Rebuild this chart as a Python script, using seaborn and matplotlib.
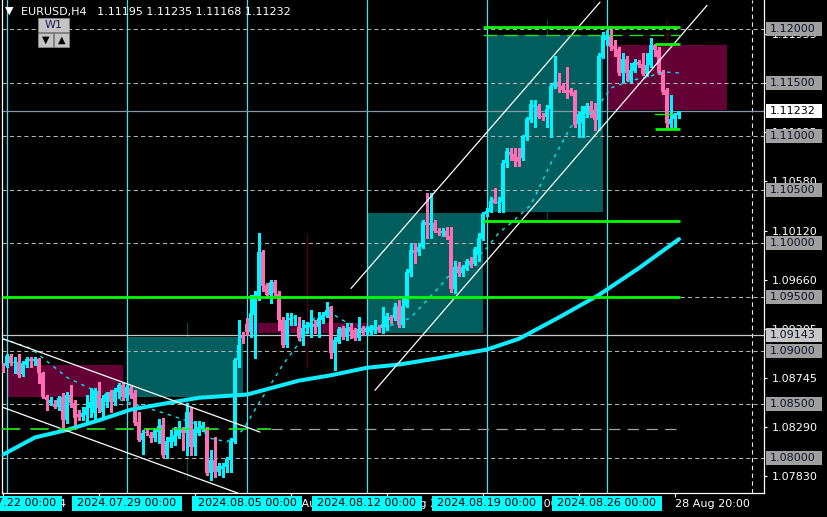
import numpy as np
import pandas as pd
import matplotlib
matplotlib.use("Agg")
import matplotlib.pyplot as plt
from matplotlib.patches import Rectangle
import seaborn as sns

# ---------------- data (EURUSD H4) ----------------
first_bar = -1  # bar index of the first candle (index 0 = 2024.07.22 00:00)

opens = [
    1.0887, 1.0886, 1.0895, 1.0888, 1.0889, 1.0878, 1.0887, 1.0892, 1.0890, 1.0892,
    1.0879, 1.0857, 1.0851, 1.0850, 1.0847, 1.0857, 1.0835, 1.0859, 1.0851, 1.0841,
    1.0838, 1.0840, 1.0846, 1.0842, 1.0861, 1.0843, 1.0852, 1.0861, 1.0852, 1.0861,
    1.0868, 1.0856, 1.0865, 1.0860, 1.0833, 1.0817, 1.0824, 1.0821, 1.0818, 1.0824,
    1.0831, 1.0803, 1.0815, 1.0815, 1.0820, 1.0827, 1.0823, 1.0843, 1.0810, 1.0823,
    1.0827, 1.0828, 1.0786, 1.0798, 1.0787, 1.0790, 1.0791, 1.0798, 1.0815, 1.0891,
    1.0914, 1.0925, 1.0917, 1.0933, 1.0950, 1.0992, 1.0961, 1.0952, 1.0964, 1.0953,
    1.0929, 1.0905, 1.0929, 1.0930, 1.0922, 1.0912, 1.0921, 1.0922, 1.0925, 1.0922,
    1.0929, 1.0932, 1.0941, 1.0898, 1.0908, 1.0921, 1.0913, 1.0922, 1.0919, 1.0912,
    1.0921, 1.0917, 1.0917, 1.0919, 1.0922, 1.0921, 1.0922, 1.0931, 1.0930, 1.0942,
    1.0924, 1.0942, 1.0972, 1.0994, 1.0992, 1.0997, 1.1020, 1.1017, 1.1019, 1.1012,
    1.1010, 1.1012, 1.1007, 1.0957, 1.0979, 1.0972, 1.0976, 1.0984, 1.0981, 1.0989,
    1.1004, 1.1027, 1.1029, 1.1041, 1.1038, 1.1039, 1.1075, 1.1085, 1.1083, 1.1081,
    1.1080, 1.1099, 1.1115, 1.1127, 1.1128, 1.1119, 1.1118, 1.1125, 1.1147, 1.1151,
    1.1147, 1.1143, 1.1143, 1.1141, 1.1111, 1.1112, 1.1121, 1.1128, 1.1124, 1.1115,
    1.1174, 1.1190, 1.1194, 1.1184, 1.1181, 1.1159, 1.1172, 1.1152, 1.1161, 1.1169,
    1.1167, 1.1158, 1.1166, 1.1185, 1.1180, 1.1159, 1.1143, 1.1111, 1.1116, 1.11195,
]
highs = [
    1.0888, 1.0897, 1.0897, 1.0894, 1.0897, 1.0890, 1.0894, 1.0894, 1.0894, 1.0893,
    1.0880, 1.0859, 1.0857, 1.0854, 1.0858, 1.0860, 1.0861, 1.0868, 1.0854, 1.0845,
    1.0847, 1.0859, 1.0865, 1.0865, 1.0871, 1.0859, 1.0861, 1.0863, 1.0865, 1.0870,
    1.0870, 1.0868, 1.0867, 1.0863, 1.0843, 1.0826, 1.0828, 1.0824, 1.0828, 1.0836,
    1.0837, 1.0819, 1.0826, 1.0829, 1.0834, 1.0829, 1.0851, 1.0847, 1.0834, 1.0834,
    1.0833, 1.0829, 1.0807, 1.0819, 1.0795, 1.0795, 1.0801, 1.0818, 1.0893, 1.0929,
    1.0917, 1.0930, 1.0952, 1.0956, 1.1010, 1.0994, 1.0963, 1.0966, 1.0966, 1.0956,
    1.0931, 1.0935, 1.0935, 1.0933, 1.0931, 1.0929, 1.0927, 1.0938, 1.0929, 1.0936,
    1.0936, 1.0945, 1.0942, 1.0913, 1.0922, 1.0923, 1.0926, 1.0926, 1.0921, 1.0931,
    1.0923, 1.0923, 1.0924, 1.0929, 1.0924, 1.0941, 1.0935, 1.0933, 1.0944, 1.0947,
    1.0949, 1.0976, 1.1000, 1.1000, 1.1000, 1.1022, 1.1047, 1.1047, 1.1022, 1.1014,
    1.1014, 1.1015, 1.1015, 1.0984, 1.0983, 1.0980, 1.0985, 1.0987, 1.0997, 1.1010,
    1.1029, 1.1033, 1.1043, 1.1052, 1.1043, 1.1078, 1.1089, 1.1089, 1.1089, 1.1089,
    1.1101, 1.1118, 1.1134, 1.1134, 1.1130, 1.1122, 1.1129, 1.1149, 1.1175, 1.1159,
    1.1150, 1.1165, 1.1145, 1.1143, 1.1123, 1.1128, 1.1131, 1.1133, 1.1131, 1.1178,
    1.1197, 1.1199, 1.1201, 1.1190, 1.1183, 1.1178, 1.1175, 1.1168, 1.1172, 1.1171,
    1.1178, 1.1178, 1.1192, 1.1186, 1.1183, 1.1162, 1.1145, 1.1138, 1.1122, 1.11235,
]
lows = [
    1.0880, 1.0885, 1.0887, 1.0879, 1.0875, 1.0876, 1.0885, 1.0885, 1.0887, 1.0870,
    1.0856, 1.0845, 1.0849, 1.0846, 1.0845, 1.0826, 1.0832, 1.0847, 1.0831, 1.0835,
    1.0835, 1.0832, 1.0838, 1.0833, 1.0843, 1.0838, 1.0847, 1.0843, 1.0849, 1.0856,
    1.0854, 1.0854, 1.0856, 1.0831, 1.0816, 1.0804, 1.0821, 1.0815, 1.0816, 1.0814,
    1.0801, 1.0800, 1.0810, 1.0812, 1.0818, 1.0807, 1.0803, 1.0803, 1.0803, 1.0821,
    1.0825, 1.0784, 1.0779, 1.0782, 1.0784, 1.0782, 1.0787, 1.0787, 1.0814, 1.0885,
    1.0907, 1.0915, 1.0913, 1.0893, 1.0947, 1.0956, 1.0949, 1.0944, 1.0952, 1.0919,
    1.0903, 1.0903, 1.0924, 1.0924, 1.0910, 1.0905, 1.0916, 1.0913, 1.0916, 1.0913,
    1.0926, 1.0931, 1.0893, 1.0882, 1.0907, 1.0911, 1.0910, 1.0912, 1.0910, 1.0910,
    1.0915, 1.0915, 1.0915, 1.0916, 1.0917, 1.0916, 1.0919, 1.0926, 1.0929, 1.0922,
    1.0922, 1.0941, 1.0970, 1.0982, 1.0989, 1.0996, 1.1005, 1.1005, 1.1011, 1.1008,
    1.1007, 1.1004, 1.0955, 1.0954, 1.0970, 1.0970, 1.0975, 1.0978, 1.0980, 1.0984,
    1.1003, 1.1026, 1.1029, 1.1038, 1.1029, 1.1029, 1.1071, 1.1078, 1.1072, 1.1072,
    1.1078, 1.1096, 1.1113, 1.1109, 1.1117, 1.1115, 1.1109, 1.1099, 1.1145, 1.1141,
    1.1141, 1.1136, 1.1138, 1.1109, 1.1099, 1.1099, 1.1118, 1.1118, 1.1106, 1.1106,
    1.1173, 1.1185, 1.1180, 1.1175, 1.1157, 1.1151, 1.1152, 1.1151, 1.1160, 1.1165,
    1.1157, 1.1156, 1.1165, 1.1175, 1.1158, 1.1139, 1.1108, 1.1108, 1.1108, 1.11168,
]
closes = [
    1.0882, 1.0895, 1.0888, 1.0889, 1.0877, 1.0888, 1.0892, 1.0890, 1.0892, 1.0879,
    1.0857, 1.0854, 1.0854, 1.0847, 1.0856, 1.0835, 1.0859, 1.0851, 1.0837, 1.0838,
    1.0842, 1.0847, 1.0852, 1.0863, 1.0846, 1.0856, 1.0860, 1.0852, 1.0863, 1.0868,
    1.0857, 1.0866, 1.0859, 1.0832, 1.0817, 1.0823, 1.0823, 1.0818, 1.0826, 1.0830,
    1.0803, 1.0816, 1.0819, 1.0821, 1.0827, 1.0823, 1.0843, 1.0810, 1.0827, 1.0829,
    1.0831, 1.0786, 1.0798, 1.0787, 1.0792, 1.0792, 1.0799, 1.0816, 1.0891, 1.0905,
    1.0912, 1.0917, 1.0935, 1.0952, 1.0992, 1.0960, 1.0952, 1.0964, 1.0954, 1.0929,
    1.0905, 1.0929, 1.0930, 1.0931, 1.0912, 1.0921, 1.0924, 1.0926, 1.0922, 1.0930,
    1.0933, 1.0938, 1.0898, 1.0910, 1.0920, 1.0913, 1.0921, 1.0917, 1.0912, 1.0920,
    1.0916, 1.0921, 1.0922, 1.0923, 1.0919, 1.0925, 1.0932, 1.0929, 1.0941, 1.0924,
    1.0942, 1.0973, 1.0994, 1.0991, 1.0997, 1.1020, 1.1017, 1.1019, 1.1012, 1.1010,
    1.1012, 1.1006, 1.0957, 1.0978, 1.0972, 1.0978, 1.0984, 1.0981, 1.0995, 1.1005,
    1.1027, 1.1030, 1.1040, 1.1038, 1.1039, 1.1075, 1.1086, 1.1082, 1.1077, 1.1076,
    1.1099, 1.1116, 1.1130, 1.1129, 1.1118, 1.1118, 1.1125, 1.1147, 1.1151, 1.1146,
    1.1143, 1.1140, 1.1140, 1.1110, 1.1121, 1.1128, 1.1128, 1.1120, 1.1115, 1.1175,
    1.1194, 1.1194, 1.1183, 1.1181, 1.1159, 1.1172, 1.1159, 1.1162, 1.1169, 1.1166,
    1.1158, 1.1166, 1.1185, 1.1180, 1.1159, 1.1141, 1.1112, 1.1116, 1.1121, 1.11232,
]

# slow moving average (thick line), sampled at bar indices
slow_ma_bars = [-1, 7, 15, 23, 31, 40, 48, 56, 60, 66, 73, 81, 90, 98, 108, 120, 128, 138, 148, 158, 168]
slow_ma_vals = [1.0803, 1.0819, 1.0826, 1.0835, 1.0845, 1.0851, 1.0856, 1.0858, 1.0859, 1.0865,
                1.0872, 1.0877, 1.0884, 1.0887, 1.0893, 1.0901, 1.0911, 1.0931, 1.0952, 1.0977, 1.1004]
# fast moving average (dashed line)
fast_ma_bars = [-1, 6, 11, 15, 20, 23, 30, 39, 47, 51, 55, 59, 62, 65, 69, 73, 77, 81, 85, 89,
                94, 98, 101, 108, 111, 115, 120, 123, 126, 131, 136, 141, 147, 151, 156, 160, 164, 168]
fast_ma_vals = [1.0911, 1.0902, 1.0887, 1.0875, 1.0866, 1.0861, 1.0852, 1.0842, 1.0832, 1.0818,
                1.0815, 1.0826, 1.0845, 1.0863, 1.0887, 1.0907, 1.0931, 1.0935, 1.0926, 1.0922,
                1.0921, 1.0926, 1.0931, 1.0959, 1.0972, 1.0978, 1.0996, 1.1010, 1.1019, 1.1036,
                1.1075, 1.1109, 1.1124, 1.1145, 1.1152, 1.1155, 1.1160, 1.1159]

# trend channel objects: (bar0, bar1), (price0, price1)
channel_bars = [(-1.0, 63.25), (-1.0, 57.75), (86.0, 148.25), (92.0, 175.0)]
channel_prices = [(1.0911, 1.0824), (1.0847, 1.0767), (1.0958, 1.1225), (1.0863, 1.1222)]

# zone rectangles: bar start, bar end, low, high, kind
zone_start = [0, 30, 60, 90, 120, 150]
zone_end = [29, 59, 90, 119, 149, 180]
zone_low = [1.0857, 1.0857, 1.0916, 1.0916, 1.1029, 1.1124]
zone_high = [1.0887, 1.0913, 1.0926, 1.1028, 1.1194, 1.1185]
zone_kind = ["supply", "demand", "supply", "demand", "demand", "supply"]

# green level lines: bar start, bar end, price, style
green_start = [-1.25, -1.25, 119, 119, 119, 162, 162, 162]
green_end = [168.25, 66, 168.25, 168.25, 168.25, 168.25, 166.25, 168.25]
green_price = [1.0950, 1.0827, 1.1021, 1.1202, 1.1194, 1.1186, 1.1121, 1.1107]
green_style = ["thick", "dash", "thick", "thick", "thin_dash", "thick", "thin", "thick"]

grey_dash_level = (66, 168.25, 1.0827)

# dark vertical marker lines: bar, low, high, colour kind
vmark_bar = [45, 75, 135, 165]
vmark_low = [1.0779, 1.0884, 1.1022, 1.1185]
vmark_high = [1.0927, 1.1010, 1.1209, 1.1209]
vmark_kind = ["teal", "maroon", "teal", "maroon"]

week_starts = [0, 30, 60, 90, 120, 150]
week_labels = ["2024.07.22 00:00", "2024.07.29 00:00", "2024.08.05 00:00",
               "2024.08.12 00:00", "2024.08.19 00:00", "2024.08.26 00:00"]
time_ticks = [-1, 23, 47, 71, 95, 119, 143, 167]
time_labels = ["19 Jul 2024", "25 Jul 20:00", "31 Jul 20:00", "6 Aug 20:00",
               "12 Aug 20:00", "16 Aug 20:00", "22 Aug 20:00", "28 Aug 20:00"]
scale_ticks = [1.07830, 1.08290, 1.08745, 1.09205, 1.09660, 1.10120, 1.10580, 1.11035, 1.11495, 1.11955]
level_prices = [1.12000, 1.11500, 1.11000, 1.10500, 1.10000, 1.09500, 1.09000, 1.08500, 1.08000]
last_price = 1.11232
marker_price = 1.09143
symbol = "EURUSD,H4"
header_ohlc = ["1.11195", "1.11235", "1.11168", "1.11232"]
shift_bar = 186.25

# ---------------- style ----------------
BULL = "#00f4ff"
BEAR = "#ff6eb4"
ZONE_COL = {"supply": "#640036", "demand": "#005e5e"}
VMARK_COL = {"teal": "#00484a", "maroon": "#4a0024"}
GREEN = "#00ff00"

sns.set_theme(style="dark", rc={"axes.facecolor": "black", "figure.facecolor": "black"})
plt.rcParams["font.family"] = ["DejaVu Sans"]

W, H = 828, 517
fig = plt.figure(figsize=(W / 100, H / 100), dpi=100, facecolor="black")
ax = fig.add_axes([2 / W, 24 / H, 762 / W, 493 / H])
ax.set_facecolor("black")
ax.grid(False)

YTOP, YBOT = 1.122705, 1.076716
XL, XR = -1.25, 189.25
ppx = (YTOP - YBOT) / 493.0  # price per pixel

# zones
for s, e, lo, hi, k in zip(zone_start, zone_end, zone_low, zone_high, zone_kind):
    ax.add_patch(Rectangle((s, lo), e - s, hi - lo, facecolor=ZONE_COL[k], edgecolor="none", zorder=1))

# dark vertical markers
for b, lo, hi, k in zip(vmark_bar, vmark_low, vmark_high, vmark_kind):
    ax.vlines(b, lo, hi, colors=VMARK_COL[k], linewidth=1.0, zorder=0.8)

# price grid levels
for p in level_prices:
    ax.axhline(p, color="#b4b4b4", linewidth=0.75, linestyle=(0, (4, 3)), zorder=2)

# week separators
for w in week_starts:
    ax.axvline(w, color="#40e4f4", linewidth=0.9, zorder=2)

# chart shift marker
ax.axvline(shift_bar, color="#e6e6e6", linewidth=0.8, linestyle=(0, (4, 3)), zorder=2)

# full width lines
ax.axhline(last_price, color="#8797aa", linewidth=0.9, zorder=2.5)
ax.axhline(marker_price, color="#c8c8c8", linewidth=0.9, zorder=2.5)

# candles
o = np.array(opens); h = np.array(highs); l = np.array(lows); c = np.array(closes)
n = min(len(o), len(h), len(l), len(c))
o, h, l, c = o[:n], h[:n], l[:n], c[:n]
idx = np.arange(first_bar, first_bar + n)
up = c >= o
cols = np.where(up, BULL, BEAR)
ax.vlines(idx, l, h, colors=cols, linewidth=0.8, zorder=5, antialiaseds=False)
bottoms = np.minimum(o, c)
heights = np.maximum(np.abs(c - o), 1.0 * ppx)
ax.bar(idx, heights, bottom=bottoms, width=0.78, color=cols, linewidth=0, zorder=6,
       antialiased=False)

# moving averages (seaborn)
slow_df = pd.DataFrame({"bar": slow_ma_bars, "price": slow_ma_vals})
fast_df = pd.DataFrame({"bar": fast_ma_bars, "price": fast_ma_vals})
sns.lineplot(data=slow_df, x="bar", y="price", ax=ax, color="#10ecff", linewidth=2.9,
             errorbar=None, legend=False, zorder=7)
sns.lineplot(data=fast_df, x="bar", y="price", ax=ax, color="#00e8f8", linewidth=1.0,
             errorbar=None, legend=False, zorder=7)
ax.lines[-1].set_linestyle((0, (2.5, 3.5)))

# channels
for (b0, b1), (p0, p1) in zip(channel_bars, channel_prices):
    ax.plot([b0, b1], [p0, p1], color="white", linewidth=0.9, zorder=8)

# green levels
for s, e, p, st in zip(green_start, green_end, green_price, green_style):
    if st == "thick":
        ax.plot([s, e], [p, p], color=GREEN, linewidth=2.0, zorder=8, solid_capstyle="butt")
    elif st == "dash":
        ax.plot([s, e], [p, p], color="#22ee22", linewidth=1.2, linestyle=(0, (11, 6)), zorder=8)
    elif st == "thin_dash":
        ax.plot([s, e], [p, p], color="#22dd22", linewidth=1.0, linestyle=(0, (10, 5)), zorder=8)
    else:
        ax.plot([s, e], [p, p], color=GREEN, linewidth=1.0, zorder=8)
gs, ge, gp = grey_dash_level
ax.plot([gs, ge], [gp, gp], color="#a0a0a0", linewidth=0.9, linestyle=(0, (9, 6)), zorder=2)

ax.set_xlim(XL, XR)
ax.set_ylim(YBOT, YTOP)
ax.set_xlabel("")
ax.set_ylabel("")

# spines
ax.spines["top"].set_visible(False)
for side in ["left", "right", "bottom"]:
    ax.spines[side].set_visible(True)
    ax.spines[side].set_color("white")
    ax.spines[side].set_linewidth(0.9)

# right price scale
ax.yaxis.tick_right()
ax.set_yticks(scale_ticks)
ax.set_yticklabels([f"{v:.5f}" for v in scale_ticks])
ax.tick_params(axis="y", which="both", colors="white", labelcolor="white", labelsize=8,
               length=2.5, width=0.8, pad=3, left=False, right=True, direction="out")

# bottom time scale
ax.set_xticks(time_ticks)
ax.set_xticklabels(time_labels)
for t in ax.get_xticklabels():
    t.set_horizontalalignment("left")
ax.tick_params(axis="x", colors="white", labelcolor="white", labelsize=8, length=3,
               width=0.8, pad=1.5, bottom=True, direction="out")

# level label boxes on the price scale
ytr = ax.get_yaxis_transform()
bx0 = (766 - 2) / 762.0
bw = 56 / 762.0
tx = (770 - 2) / 762.0
hh = 7 * ppx
def price_box(p, face, txtcol="black"):
    ax.add_patch(Rectangle((bx0, p - hh), bw, 2 * hh, transform=ytr, facecolor=face,
                           edgecolor="none", clip_on=False, zorder=20))
    ax.text(tx, p, f"{p:.5f}", transform=ytr, ha="left", va="center", fontsize=8,
            color=txtcol, clip_on=False, zorder=21)
for p in level_prices:
    price_box(p, "#a0a0a0", "#10102a")
price_box(marker_price, "#c8c8c8", "#10102a")
price_box(last_price, "white", "black")

# week start boxes on the time scale
xtr = ax.get_xaxis_transform()
by0 = -(511 - 493) / 493.0
bh = 15 / 493.0
for w, lab in zip(week_starts, week_labels):
    ax.add_patch(Rectangle((w - 13.75, by0), 27.5, bh, transform=xtr, facecolor="#00ffff",
                           edgecolor="none", clip_on=False, zorder=20))
    ax.text(w, by0 + bh / 2, lab, transform=xtr, ha="center", va="center", fontsize=8,
            color="black", clip_on=False, zorder=21)

# header
def fy(y):
    return 1 - y / H
fig.text(5 / W, fy(11), "\u25BC", fontsize=8, color="white", va="center", ha="left")
fig.text(21 / W, fy(12), symbol + "   " + " ".join(header_ohlc), fontsize=8,
         color="white", va="center", ha="left")
fig.add_artist(Rectangle((38 / W, fy(32)), 31 / W, 14 / H, transform=fig.transFigure,
                         facecolor="#c4c4c4", edgecolor="#909090", linewidth=0.5))
fig.text(53.5 / W, fy(25), "W1", fontsize=8, color="#1c1c50", ha="center", va="center")
for x0, glyph in [(38, "\u25BC"), (54, "\u25B2")]:
    fig.add_artist(Rectangle((x0 / W, fy(47)), 15 / W, 14 / H, transform=fig.transFigure,
                             facecolor="#c4c4c4", edgecolor="#909090", linewidth=0.5))
    fig.text((x0 + 7.5) / W, fy(40), glyph, fontsize=7, color="black", ha="center", va="center")

fig.savefig("out.png", dpi=100, facecolor="black")
